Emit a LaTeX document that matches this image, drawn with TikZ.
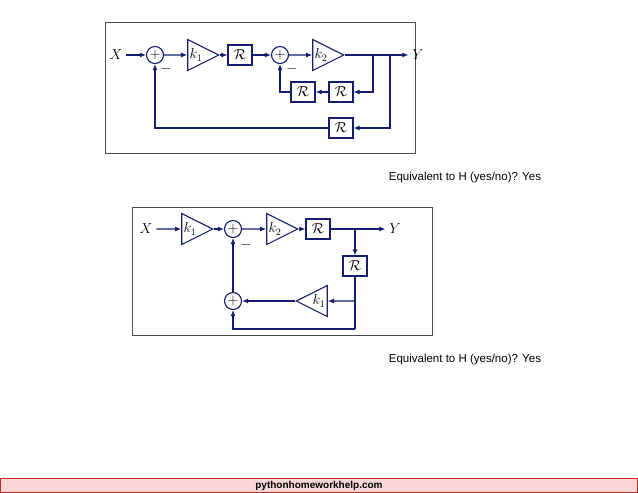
\documentclass[tikz,border=0pt]{standalone}
\usepackage{fontspec}
\newfontfamily\arialfont{Liberation Sans}
\usetikzlibrary{positioning,shapes.geometric,arrows.meta}
\definecolor{navy}{RGB}{20,30,110}
\definecolor{footfill}{RGB}{250,215,215}
\definecolor{footline}{RGB}{200,40,40}
\begin{document}
\begin{tikzpicture}[x=1pt,y=-1pt, line width=1.1pt, draw=navy, font=\fontsize{14}{16}\selectfont,
  sum/.style={circle, draw=navy, line width=1.1pt, minimum size=17pt, inner sep=0pt},
  gain/.style={isosceles triangle, draw=navy, line width=1.1pt, isosceles triangle stretches, minimum width=31pt, minimum height=31pt, inner sep=0pt},
  lgain/.style={gain, shape border rotate=180},
  delay/.style={rectangle, draw=navy, line width=1.1pt, minimum width=24pt, minimum height=20pt, inner sep=0pt},
  ar/.style={navy, -{Latex[length=6pt,width=5pt]}},
  ln/.style={navy},
  frame/.style={draw=black!70, line width=0.8pt},
  eqtext/.style={font=\arialfont\fontsize{11.5}{13}\selectfont, anchor=west}]
  \useasboundingbox (0,0) rectangle (638,493);
  % upper diagram
  \draw[frame] (105,22) rectangle (415,153);
  \node (x1) at (116,55) {$X$};
  \node[sum] (s1) at (155,55) {$+$};
  \node[gain] (k1) at (196,55) {$k_1$};
  \node[delay] (r1) at (240,55) {$\mathcal{R}$};
  \node[sum] (s2) at (280,55) {$+$};
  \node[gain] (k2) at (321,55) {$k_2$};
  \node (y1) at (418,55) {$Y$};
  \node[delay] (r2) at (341,92) {$\mathcal{R}$};
  \node[delay] (r3) at (303,92) {$\mathcal{R}$};
  \node[delay] (r4) at (341,128) {$\mathcal{R}$};
  \node at (166,69) {$-$};
  \node at (292,69) {$-$};
  \coordinate (b1) at (373,55);
  \coordinate (b2) at (390,55);
  \draw[ar] (x1) -- (s1);
  \draw[ar] (s1) -- (k1);
  \draw[ar] (k1.apex) -- (r1);
  \draw[ar] (r1) -- (s2);
  \draw[ar] (s2) -- (k2);
  \draw[ar] (k2.apex) -- (y1);
  \draw[ar] (b1) |- (r2);
  \draw[ar] (r2) -- (r3);
  \draw[ar] (r3) -| (s2);
  \draw[ar] (b2) |- (r4);
  \draw[ar] (r4) -| (s1);
  \node[eqtext] (q1) at (385,178) {Equivalent to H (yes/no)? Yes};
  % lower diagram
  \draw[frame] (132,207) rectangle (432,335);
  \node (x2) at (146,229) {$X$};
  \node[gain] (g1) at (190,229) {$k_1$};
  \node[sum] (t1) at (233,229) {$+$};
  \node[gain] (g2) at (275,229) {$k_2$};
  \node[delay] (d1) at (318,229) {$\mathcal{R}$};
  \node (y2) at (395,229) {$Y$};
  \node[delay] (d2) at (355,266) {$\mathcal{R}$};
  \node[lgain] (g3) at (319,301) {$k_1$};
  \node[sum] (t2) at (233,301) {$+$};
  \node at (246,245) {$-$};
  \coordinate (c1) at (355,229);
  \coordinate (c2) at (355,301);
  \coordinate (c3) at (355,329);
  \draw[ar] (x2) -- (g1);
  \draw[ar] (g1.apex) -- (t1);
  \draw[ar] (t1) -- (g2);
  \draw[ar] (g2.apex) -- (d1);
  \draw[ar] (d1) -- (y2);
  \draw[ar] (c1) -- (d2);
  \draw[ln] (d2) -- (c3);
  \draw[ar] (c2) -- (g3);
  \draw[ar] (g3.apex) -- (t2);
  \draw[ar] (c3) -| (t2);
  \draw[ar] (t2) -- (t1);
  \node[eqtext] (q2) at (385,360) {Equivalent to H (yes/no)? Yes};
  % footer
  \draw[draw=footline, fill=footfill, line width=0.8pt] (0.5,478) rectangle (637.5,492.5);
  \node[font=\arialfont\bfseries\fontsize{10}{11}\selectfont] (foot) at (319,485.5) {pythonhomeworkhelp.com};
\end{tikzpicture}
\end{document}
